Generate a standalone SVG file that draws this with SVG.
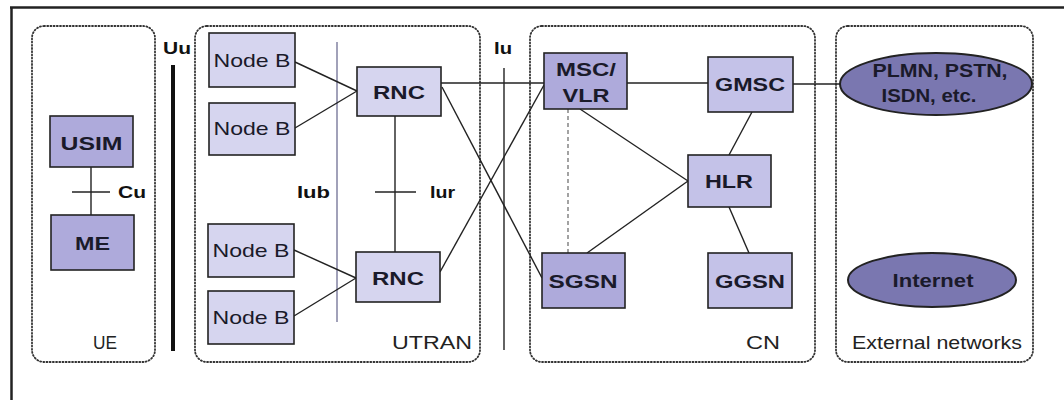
<svg xmlns="http://www.w3.org/2000/svg" width="1064" height="400" viewBox="0 0 1064 400">
<style>
.area{fill:none;stroke:#333;stroke-width:1.8;stroke-dasharray:1 2.2;stroke-linecap:round}
.box{stroke:#222;stroke-width:1.6}
.lt{fill:#d6d5ef}
.md{fill:#c4c2e8}
.dk{fill:#aeaadb}
.ell{fill:#7a77b0;stroke:#222;stroke-width:2}
.bl{font-family:"Liberation Sans",Arial,sans-serif;font-weight:bold;font-size:19px;fill:#1a1a2a;text-anchor:middle}
.nb{font-family:"Liberation Sans",Arial,sans-serif;font-size:19px;fill:#1a1a2a;text-anchor:middle}
.lb{font-family:"Liberation Sans",Arial,sans-serif;font-size:19px;fill:#222;text-anchor:middle}
.if{font-family:"Liberation Sans",Arial,sans-serif;font-weight:bold;font-size:16px;fill:#111}
.ln{stroke:#222;stroke-width:1.4;fill:none}
.gr{stroke:#8a8aa8;stroke-width:1.6;fill:none}
.ds{stroke:#666;stroke-width:1.2;stroke-dasharray:4 3;fill:none}
</style>
<rect x="0" y="0" width="1064" height="400" fill="#ffffff"/>
<g id="frame">
<line x1="10" y1="7.5" x2="1064" y2="7.5" stroke="#222" stroke-width="2.5"/>
<line x1="11.5" y1="7" x2="11.5" y2="400" stroke="#222" stroke-width="2.5"/>
</g>
<g id="areas">
<rect class="area" x="32" y="26" width="123" height="336" rx="12"/>
<rect class="area" x="195" y="26" width="285" height="336" rx="12"/>
<rect class="area" x="530" y="26" width="285" height="336" rx="12"/>
<rect class="area" x="836" y="26" width="197" height="336" rx="12"/>
<text class="lb" x="105" y="349" textLength="24" lengthAdjust="spacingAndGlyphs">UE</text>
<text class="lb" x="432" y="349" textLength="80" lengthAdjust="spacingAndGlyphs">UTRAN</text>
<text class="lb" x="763" y="349" textLength="34" lengthAdjust="spacingAndGlyphs">CN</text>
<text class="lb" x="937" y="349" textLength="170" lengthAdjust="spacingAndGlyphs">External networks</text>
</g>
<g id="connectors">
<line x1="173" y1="65" x2="173" y2="351" stroke="#111" stroke-width="4"/>
<line class="gr" x1="337" y1="42" x2="337" y2="322"/>
<line class="ln" x1="504" y1="68" x2="504" y2="350"/>
<line class="ln" x1="91" y1="167" x2="91" y2="215"/>
<line class="ln" x1="72" y1="192" x2="110" y2="192"/>
<line class="ln" x1="295" y1="62" x2="357" y2="91"/>
<line class="ln" x1="295" y1="128" x2="357" y2="91"/>
<line class="ln" x1="294" y1="250" x2="356" y2="278"/>
<line class="ln" x1="294" y1="316" x2="356" y2="278"/>
<line class="ln" x1="395" y1="116" x2="395" y2="252"/>
<line class="ln" x1="375" y1="192" x2="416" y2="192"/>
<line class="ln" x1="441" y1="83" x2="544" y2="83"/>
<line class="ln" x1="442" y1="87" x2="542" y2="278"/>
<line class="ln" x1="440" y1="272" x2="544" y2="85"/>
<line class="ln" x1="627" y1="83" x2="708" y2="83"/>
<line class="ln" x1="793" y1="84" x2="840" y2="84"/>
<line class="ds" x1="568" y1="109" x2="568" y2="253"/>
<line class="ln" x1="580" y1="109" x2="688" y2="181"/>
<line class="ln" x1="587" y1="253" x2="688" y2="181"/>
<line class="ln" x1="752" y1="112" x2="729" y2="155"/>
<line class="ln" x1="729" y1="207" x2="749" y2="253"/>
<text class="if" x="163" y="54" textLength="28" lengthAdjust="spacingAndGlyphs">Uu</text>
<text class="if" x="118" y="198" textLength="28" lengthAdjust="spacingAndGlyphs">Cu</text>
<text class="if" x="297" y="198" textLength="33" lengthAdjust="spacingAndGlyphs">Iub</text>
<text class="if" x="430" y="198" textLength="25" lengthAdjust="spacingAndGlyphs">Iur</text>
<text class="if" x="494" y="54" textLength="18" lengthAdjust="spacingAndGlyphs">Iu</text>
</g>
<g id="usim"><rect class="box dk" x="50" y="116" width="83" height="51"/><text class="bl" x="91.5" y="150" textLength="62" lengthAdjust="spacingAndGlyphs">USIM</text></g>
<g id="me"><rect class="box dk" x="51" y="215" width="83" height="55"/><text class="bl" x="92.5" y="250" textLength="35" lengthAdjust="spacingAndGlyphs">ME</text></g>
<g id="nodeb1"><rect class="box lt" x="209" y="33" width="86" height="54"/><text class="nb" x="252" y="67" textLength="77" lengthAdjust="spacingAndGlyphs">Node B</text></g>
<g id="nodeb2"><rect class="box lt" x="209" y="103" width="86" height="52"/><text class="nb" x="252" y="135" textLength="77" lengthAdjust="spacingAndGlyphs">Node B</text></g>
<g id="nodeb3"><rect class="box lt" x="208" y="224" width="86" height="53"/><text class="nb" x="251" y="257" textLength="77" lengthAdjust="spacingAndGlyphs">Node B</text></g>
<g id="nodeb4"><rect class="box lt" x="208" y="291" width="86" height="53"/><text class="nb" x="251" y="324" textLength="77" lengthAdjust="spacingAndGlyphs">Node B</text></g>
<g id="rnc1"><rect class="box lt" x="357" y="67" width="84" height="49"/><text class="bl" x="399" y="99" textLength="52" lengthAdjust="spacingAndGlyphs">RNC</text></g>
<g id="rnc2"><rect class="box lt" x="356" y="252" width="84" height="50"/><text class="bl" x="398" y="285" textLength="52" lengthAdjust="spacingAndGlyphs">RNC</text></g>
<g id="mscvlr"><rect class="box dk" x="544" y="53" width="83" height="56"/><text class="bl" x="586" y="76" textLength="60" lengthAdjust="spacingAndGlyphs">MSC/</text><text class="bl" x="586" y="102" textLength="47" lengthAdjust="spacingAndGlyphs">VLR</text></g>
<g id="sgsn"><rect class="box dk" x="542" y="253" width="83" height="55"/><text class="bl" x="583" y="288" textLength="69" lengthAdjust="spacingAndGlyphs">SGSN</text></g>
<g id="gmsc"><rect class="box md" x="708" y="57" width="85" height="55"/><text class="bl" x="750" y="91" textLength="70" lengthAdjust="spacingAndGlyphs">GMSC</text></g>
<g id="hlr"><rect class="box md" x="688" y="155" width="83" height="52"/><text class="bl" x="729" y="188" textLength="48" lengthAdjust="spacingAndGlyphs">HLR</text></g>
<g id="ggsn"><rect class="box md" x="708" y="253" width="84" height="55"/><text class="bl" x="750" y="288" textLength="70" lengthAdjust="spacingAndGlyphs">GGSN</text></g>
<g id="plmn"><ellipse class="ell" cx="936" cy="84" rx="96" ry="31"/><text class="bl" x="940" y="77" textLength="135" lengthAdjust="spacingAndGlyphs">PLMN, PSTN,</text><text class="bl" x="929" y="102" textLength="95" lengthAdjust="spacingAndGlyphs">ISDN, etc.</text></g>
<g id="internet"><ellipse class="ell" cx="932" cy="280" rx="84" ry="27"/><text class="bl" x="933" y="287" textLength="81" lengthAdjust="spacingAndGlyphs">Internet</text></g>
</svg>
